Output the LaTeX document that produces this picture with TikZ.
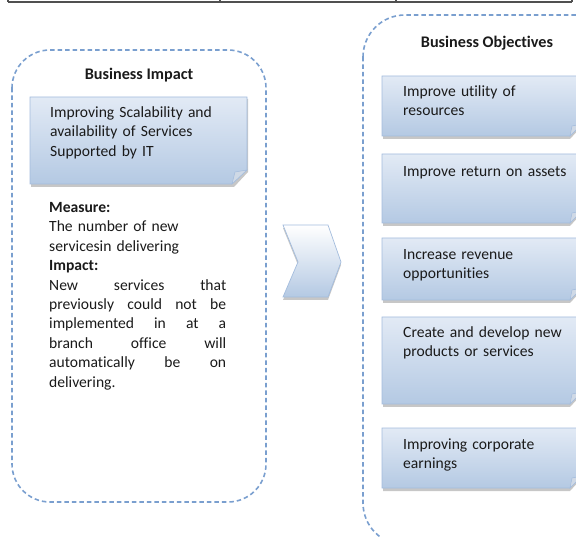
\documentclass[tikz,border=0pt]{standalone}
\usepackage{fontspec}
\setmainfont{Carlito}[Ligatures=NoCommon]
\usetikzlibrary{calc}
\definecolor{dashblue}{HTML}{7A9FCF}
\definecolor{boxtop}{HTML}{E2EAF5}
\definecolor{boxbot}{HTML}{B4C9E3}
\definecolor{boxline}{HTML}{A3BCDD}
\definecolor{foldcol}{HTML}{CFD9E6}
\definecolor{txt}{HTML}{1A1A1A}
\definecolor{tblline}{HTML}{505050}
\newcommand{\jline}[1]{\makebox[177pt][l]{#1}}
\tikzset{
  dashframe/.style={draw=dashblue, line width=1.6pt, dash pattern=on 4.5pt off 3pt, rounded corners=38pt},
  titletext/.style={font=\fontsize{16.2}{19}\selectfont\bfseries, anchor=base, inner sep=0pt, text=txt},
  bodytext/.style={font=\fontsize{15.6}{19.4}\selectfont, anchor=base west, inner sep=0pt, align=left, text width=#1, text=txt},
  notefill/.style={top color=boxtop, bottom color=boxbot, draw=boxline, line width=0.6pt},
  foldfill/.style={fill=foldcol, draw=boxline, line width=0.5pt},
  shadowfill/.style={fill=black, opacity=0.22},
  chevfill/.style={top color=white, bottom color=boxbot, draw=boxline, line width=0.7pt},
  tbl/.style={draw=tblline, line width=1.2pt},
}
\begin{document}
\begin{tikzpicture}[x=1pt,y=-1pt]
\useasboundingbox (0,0) rectangle (576,537);
\clip (0,0) rectangle (576,537);

% table strip at top
\draw[tbl] (8,2) -- (572,2);
\foreach \xx in {8,220,396,572} \draw[tbl] (\xx,-2) -- (\xx,2);

% left dashed frame
\draw[dashframe] (12,50) rectangle (266,502);
\node[titletext] (bititle) at (139,80) {Business Impact};

% left note box with folded corner
\fill[shadowfill] (31,99) -- (248,99) -- (248,172) -- (234,187) -- (31,187) -- cycle;
\path[notefill] (30,97) -- (247,97) -- (247,170) -- (232,184) -- (30,184) -- cycle;
\path[foldfill] (232,184) -- (235,172) -- (247,170) -- cycle;
\node[bodytext=195pt] (note) at (50,117.5) {Improving Scalability and\\availability of Services\\Supported by IT};

% measure / impact text
\node[bodytext=195pt] (measure) at (49,212.5) {\textbf{Measure:}\\
The number of new\\
servicesin delivering\\
\textbf{Impact:}\\
\jline{New\hfill services\hfill that}\\
\jline{previously\hfill could\hfill not\hfill be}\\
\jline{implemented\hfill in\hfill at\hfill a}\\
\jline{branch\hfill office\hfill will}\\
\jline{automatically\hfill be\hfill on}\\
delivering.};

% chevron
\fill[shadowfill] (283,228) -- (328,228) -- (341,265) -- (328,300) -- (283,300) -- (298,265) -- cycle;
\path[chevfill] (283,225) -- (328,225) -- (341,262) -- (328,297) -- (283,297) -- (298,262) -- cycle;

% right dashed frame
\draw[dashframe, rounded corners=42pt] (363,15) rectangle (640,545);
\node[titletext] (botitle) at (487,48) {Business Objectives};

% right boxes
\foreach \ya/\yb in {76/136,154/223,238/300,317/404,428/488}{
  \fill[shadowfill] (383,\ya+2) -- (582,\ya+2) -- (582,\yb-10) -- (570,\yb+3) -- (383,\yb+3) -- cycle;
  \path[notefill] (382,\ya) -- (582,\ya) -- (582,\yb-12) -- (570,\yb) -- (382,\yb) -- cycle;
  \path[foldfill] (570,\yb) -- (572,\yb-10) -- (582,\yb-12) -- cycle;
}
\node[bodytext=175pt] (ob1) at (403,96.5) {Improve utility of\\resources};
\node[bodytext=175pt] (ob2) at (403,176.5) {Improve return on assets};
\node[bodytext=175pt] (ob3) at (403,259.5) {Increase revenue\\opportunities};
\node[bodytext=175pt] (ob4) at (403,337.5) {Create and develop new\\products or services};
\node[bodytext=175pt] (ob5) at (403,449.5) {Improving corporate\\earnings};
\end{tikzpicture}
\end{document}
